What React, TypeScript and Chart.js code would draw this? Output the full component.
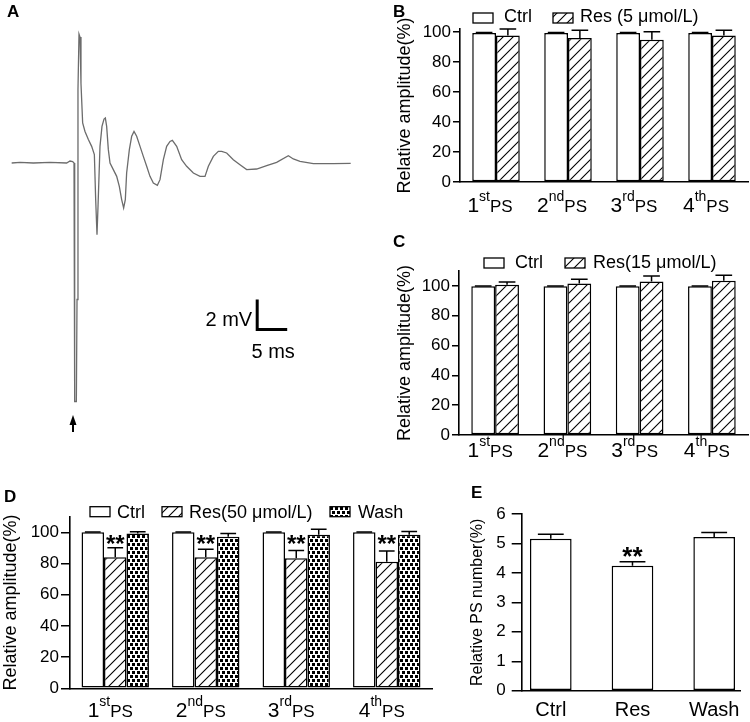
import React, { useEffect, useRef } from 'react';
import { Chart, registerables } from 'chart.js';

Chart.register(...registerables);

const FONT = '"Liberation Sans", Arial, Helvetica, sans-serif';

// ---------- Panel A: evoked field potential trace ----------
const traceTimeMs = [
  -10.72, -9.33, -7.11, -4.33, -1.56, -1.0, -0.56, -0.33, -0.22, 0.06,
  0.17, 0.33, 0.5, 0.67, 0.83, 1.11, 1.5, 2.06, 2.61, 3.06,
  3.28, 3.5, 3.67, 4.0, 4.33, 4.67, 4.89, 5.11, 5.39, 5.67,
  6.22, 6.78, 7.22, 7.61, 7.94, 8.22, 8.44, 8.89, 9.28, 9.67,
  10.11, 10.67, 11.22, 11.78, 12.33, 12.89, 13.56, 14.0, 14.56, 15.11,
  15.67, 16.06, 16.78, 17.61, 18.44, 19.56, 20.67, 21.5, 22.06, 22.89,
  23.72, 24.28, 25.11, 26.22, 27.33, 28.44, 30.11, 31.78, 33.44, 35.39,
  36.22, 37.33, 39.56, 42.89, 45.78,
];
const traceMv = [
  0, 0.04, 0, 0.04, 0, 0.13, 0.09, 0, -15.9, -15.9,
  -9.1, 4.9, 8.6, 8.4, 5.3, 2.67, 2.1, 1.56, 1.11, 0.56,
  -2.44, -4.78, -2.89, 1.11, 2.44, 2.93, 3.0, 2.44, 0.89, 0,
  -0.44, -0.89, -1.56, -2.44, -3.0, -2.44, -0.67, 0.89, 1.78, 2.11,
  1.78, 1.11, 0.44, -0.22, -0.89, -1.33, -1.49, -1.11, 0.22, 1.11,
  1.44, 1.51, 1.11, 0.22, -0.22, -0.67, -0.89, -0.89, -0.22, 0.44,
  0.78, 0.78, 0.67, 0.22, -0.11, -0.44, -0.4, -0.18, 0.04, 0.49,
  0.27, 0.11, -0.04, -0.04, -0.02,
];
const scaleBarMv = 2;
const scaleBarMs = 5;

// ---------- Panels B-D: PS amplitudes ----------
const psNumbers = ['1', '2', '3', '4'];
const psSuffixes = ['st', 'nd', 'rd', 'th'];
const psWord = 'PS';

const ctrlB = [99.3, 99.3, 99.3, 99.3];
const errCtrlB = [0.3, 0.3, 0.3, 0.3];
const res5B = [97.7, 96.0, 94.9, 97.7];
const errRes5B = [4.3, 5.1, 5.3, 3.4];

const ctrlC = [99.7, 99.7, 99.7, 99.7];
const errCtrlC = [0.3, 0.3, 0.3, 0.3];
const res15C = [100.7, 101.6, 103.0, 103.4];
const errRes15C = [2.0, 2.9, 3.7, 3.8];

const ctrlD = [100, 100, 100, 100];
const errCtrlD = [0.2, 0.2, 0.2, 0.2];
const res50D = [84.0, 84.0, 83.3, 81.2];
const errRes50D = [6.1, 5.2, 5.1, 6.8];
const washD = [99.3, 97.2, 98.5, 98.5];
const errWashD = [1.1, 2.1, 3.4, 2.0];
const signifD = [true, true, true, true];

// ---------- Panel E: PS number ----------
const groupsE = ['Ctrl', 'Res', 'Wash'];
const psNumberE = [5.16, 4.24, 5.22];
const errPsNumberE = [0.15, 0.14, 0.15];
const signifE = [false, true, false];

// ---------- fills ----------
function makeHatch(): any {
  const c = document.createElement('canvas');
  c.width = 10; c.height = 10;
  const g = c.getContext('2d')!;
  g.fillStyle = '#fff'; g.fillRect(0, 0, 10, 10);
  g.strokeStyle = '#000'; g.lineWidth = 1.1;
  g.beginPath();
  g.moveTo(0, 10); g.lineTo(10, 0);
  g.moveTo(-2, 2); g.lineTo(2, -2);
  g.moveTo(8, 12); g.lineTo(12, 8);
  g.stroke();
  return g.createPattern(c, 'repeat');
}
function makeDots(): any {
  const c = document.createElement('canvas');
  c.width = 10; c.height = 8;
  const g = c.getContext('2d')!;
  g.fillStyle = '#fff'; g.fillRect(0, 0, 10, 8);
  g.fillStyle = '#000';
  g.fillRect(0, 0, 3, 3); g.fillRect(5, 0, 3, 3);
  g.fillRect(2, 4, 3, 3); g.fillRect(7, 4, 3, 3);
  return g.createPattern(c, 'repeat');
}

// ---------- plugins ----------
function errorBarPlugin(errs: (number[] | null)[], capRatio = 0.7) {
  return {
    id: 'errorBars',
    afterDatasetsDraw(chart: any) {
      const ctx = chart.ctx;
      const ys = chart.scales.y;
      ctx.save();
      ctx.strokeStyle = '#000';
      ctx.lineWidth = 1.5;
      chart.data.datasets.forEach((ds: any, di: number) => {
        const e = errs[di];
        if (!e) return;
        const meta = chart.getDatasetMeta(di);
        meta.data.forEach((bar: any, i: number) => {
          const raw = ds.data[i];
          const v = typeof raw === 'number' ? raw : raw.y;
          const yTop = ys.getPixelForValue(v + e[i]);
          const half = (bar.width * capRatio) / 2;
          ctx.beginPath();
          ctx.moveTo(bar.x, bar.y);
          ctx.lineTo(bar.x, yTop);
          ctx.moveTo(bar.x - half, yTop);
          ctx.lineTo(bar.x + half, yTop);
          ctx.stroke();
        });
      });
      ctx.restore();
    },
  };
}

function legendPlugin(s: { boxX: number[]; textX: number[]; boxTop: number; textBase: number; size: number }) {
  return {
    id: 'panelLegend',
    afterDraw(chart: any) {
      const { ctx, chartArea } = chart;
      ctx.save();
      chart.data.datasets.forEach((ds: any, i: number) => {
        const bx = chartArea.left + s.boxX[i];
        const by = chartArea.top + s.boxTop;
        ctx.fillStyle = ds.backgroundColor;
        ctx.fillRect(bx, by, 20, 10);
        ctx.strokeStyle = '#000';
        ctx.lineWidth = 1.3;
        ctx.strokeRect(bx, by, 20, 10);
        ctx.fillStyle = '#000';
        ctx.font = `${s.size}px ${FONT}`;
        ctx.textAlign = 'left';
        ctx.textBaseline = 'alphabetic';
        ctx.fillText(ds.label, chartArea.left + s.textX[i], chartArea.top + s.textBase);
      });
      ctx.restore();
    },
  };
}

function ordinalLabelsPlugin(s: { dy: number; dx: number; num: number; sup: number; word: number; raise: number }) {
  return {
    id: 'ordinalLabels',
    afterDraw(chart: any) {
      const { ctx, chartArea } = chart;
      const xs = chart.scales.x;
      const base = chartArea.bottom + s.dy;
      ctx.save();
      ctx.fillStyle = '#000';
      ctx.textAlign = 'left';
      ctx.textBaseline = 'alphabetic';
      psNumbers.forEach((n, i) => {
        ctx.font = `${s.num}px ${FONT}`;
        const wn = ctx.measureText(n).width;
        ctx.font = `${s.sup}px ${FONT}`;
        const ws = ctx.measureText(psSuffixes[i]).width;
        ctx.font = `${s.word}px ${FONT}`;
        const ww = ctx.measureText(psWord).width;
        let x = xs.getPixelForValue(i) - (wn + ws + ww) / 2 + s.dx;
        ctx.font = `${s.num}px ${FONT}`;
        ctx.fillText(n, x, base);
        x += wn;
        ctx.font = `${s.sup}px ${FONT}`;
        ctx.fillText(psSuffixes[i], x, base - s.raise);
        x += ws;
        ctx.font = `${s.word}px ${FONT}`;
        ctx.fillText(psWord, x, base);
      });
      ctx.restore();
    },
  };
}

function starsPlugin(s: { di: number; flags: boolean[]; errs: number[]; size: number; atValue?: number; gap?: number }) {
  return {
    id: 'signifStars',
    afterDraw(chart: any) {
      const { ctx } = chart;
      const ys = chart.scales.y;
      const ds = chart.data.datasets[s.di];
      const meta = chart.getDatasetMeta(s.di);
      ctx.save();
      ctx.fillStyle = '#000';
      ctx.font = `bold ${s.size}px ${FONT}`;
      ctx.textAlign = 'center';
      ctx.textBaseline = 'alphabetic';
      meta.data.forEach((bar: any, i: number) => {
        if (!s.flags[i]) return;
        const raw = ds.data[i];
        const v = typeof raw === 'number' ? raw : raw.y;
        const cy = s.atValue !== undefined
          ? ys.getPixelForValue(s.atValue)
          : ys.getPixelForValue(v + s.errs[i]) - (s.gap || 0);
        ctx.fillText('**', bar.x, cy + 0.575 * s.size);
      });
      ctx.restore();
    },
  };
}

const traceAnnotations = {
  id: 'traceAnnotations',
  afterDraw(chart: any) {
    const { ctx } = chart;
    const xs = chart.scales.x;
    const ys = chart.scales.y;
    const cornerMs = 30.2;
    const cornerMv = -11.1;
    const x0 = xs.getPixelForValue(cornerMs);
    const x1 = xs.getPixelForValue(cornerMs + scaleBarMs);
    const y0 = ys.getPixelForValue(cornerMv);
    const y1 = ys.getPixelForValue(cornerMv + scaleBarMv);
    ctx.save();
    ctx.strokeStyle = '#000';
    ctx.fillStyle = '#000';
    ctx.lineWidth = 3;
    ctx.beginPath();
    ctx.moveTo(x0, y1);
    ctx.lineTo(x0, y0);
    ctx.lineTo(x1, y0);
    ctx.stroke();
    ctx.font = `20px ${FONT}`;
    ctx.textBaseline = 'alphabetic';
    ctx.textAlign = 'right';
    ctx.fillText(`${scaleBarMv} mV`, x0 - 5, y0 - 4);
    ctx.textAlign = 'center';
    ctx.fillText(`${scaleBarMs} ms`, (x0 + x1) / 2 + 1, y0 + 28);
    // stimulus arrow
    const ax = xs.getPixelForValue(-0.5);
    const ay = ys.getPixelForValue(-16.8);
    ctx.beginPath();
    ctx.moveTo(ax, ay);
    ctx.lineTo(ax - 3.5, ay + 10);
    ctx.lineTo(ax + 3.5, ay + 10);
    ctx.closePath();
    ctx.fill();
    ctx.lineWidth = 2;
    ctx.beginPath();
    ctx.moveTo(ax, ay + 8);
    ctx.lineTo(ax, ay + 17);
    ctx.stroke();
    ctx.restore();
  },
};

// ---------- configs ----------
function yAxis(o: { max: number; step: number; title: string; titleSize: number; titlePad: number; width: number; tickLen: number; tickPad: number; tickSize: number }) {
  return {
    type: 'linear',
    min: 0,
    max: o.max,
    afterFit: (s: any) => { s.width = o.width; },
    ticks: { stepSize: o.step, includeBounds: false, color: '#000', font: { family: FONT, size: o.tickSize }, padding: o.tickPad },
    grid: { drawOnChartArea: false, drawTicks: true, tickLength: o.tickLen, color: '#000', lineWidth: 1.5 },
    border: { display: true, color: '#000', width: 1.6 },
    title: { display: true, text: o.title, color: '#000', font: { family: FONT, size: o.titleSize }, padding: { top: o.titlePad, bottom: 0 } },
  };
}

function xCategoryAxis(height: number) {
  return {
    type: 'category',
    offset: true,
    afterFit: (s: any) => { s.height = height; },
    ticks: { display: false },
    grid: { display: false, drawTicks: false },
    border: { display: true, color: '#000', width: 1.6 },
  };
}

function barDataset(label: string, data: any[], fill: any, cp: number) {
  return {
    label,
    data,
    backgroundColor: fill,
    borderColor: '#000',
    borderWidth: 1.5,
    borderSkipped: false,
    categoryPercentage: cp,
    barPercentage: 1,
  };
}

const baseOptions = {
  responsive: false,
  animation: false,
  events: [],
};

function makeTraceConfig(): any {
  return {
    type: 'line',
    data: {
      datasets: [{
        data: traceTimeMs.map((t, i) => ({ x: t, y: traceMv[i] })),
        borderColor: '#6c6c6c',
        borderWidth: 1.3,
        pointRadius: 0,
        tension: 0,
        fill: false,
      }],
    },
    options: {
      ...baseOptions,
      layout: { padding: 0 },
      plugins: { legend: { display: false }, tooltip: { enabled: false } },
      scales: {
        x: { type: 'linear', min: -12, max: 47, display: false },
        y: { type: 'linear', min: -19, max: 10, display: false },
      },
    },
    plugins: [traceAnnotations],
  };
}

function makeBConfig(): any {
  const cp = 0.66;
  return {
    type: 'bar',
    data: {
      labels: psNumbers,
      datasets: [
        barDataset('Ctrl', ctrlB, '#fff', cp),
        barDataset('Res (5 \u03bcmol/L)', res5B, makeHatch(), cp),
      ],
    },
    options: {
      ...baseOptions,
      layout: { padding: { left: 0, right: 2, top: 29, bottom: 0 } },
      plugins: { legend: { display: false }, tooltip: { enabled: false } },
      scales: {
        x: xCategoryAxis(50),
        y: yAxis({ max: 102, step: 20, title: 'Relative amplitude(%)', titleSize: 18, titlePad: 14, width: 80, tickLen: 7, tickPad: 2, tickSize: 17 }),
      },
    },
    plugins: [
      errorBarPlugin([errCtrlB, errRes5B]),
      legendPlugin({ boxX: [13, 93], textX: [44, 120], boxTop: -16, textBase: -7, size: 18 }),
      ordinalLabelsPlugin({ dy: 30, dx: -6, num: 21, sup: 14, word: 17, raise: 11 }),
    ],
  };
}

function makeCConfig(): any {
  const cp = 0.66;
  return {
    type: 'bar',
    data: {
      labels: psNumbers,
      datasets: [
        barDataset('Ctrl', ctrlC, '#fff', cp),
        barDataset('Res(15 \u03bcmol/L)', res15C, makeHatch(), cp),
      ],
    },
    options: {
      ...baseOptions,
      layout: { padding: { left: 0, right: 2, top: 39, bottom: 0 } },
      plugins: { legend: { display: false }, tooltip: { enabled: false } },
      scales: {
        x: xCategoryAxis(37),
        y: yAxis({ max: 110, step: 20, title: 'Relative amplitude(%)', titleSize: 18, titlePad: 14, width: 79, tickLen: 7, tickPad: 2, tickSize: 17 }),
      },
    },
    plugins: [
      errorBarPlugin([errCtrlC, errRes15C]),
      legendPlugin({ boxX: [25, 106], textX: [56, 134], boxTop: -13, textBase: -3, size: 18 }),
      ordinalLabelsPlugin({ dy: 22, dx: -5, num: 21, sup: 14, word: 17, raise: 11 }),
    ],
  };
}

function makeDConfig(): any {
  const cp = 0.745;
  return {
    type: 'bar',
    data: {
      labels: psNumbers,
      datasets: [
        barDataset('Ctrl', ctrlD, '#fff', cp),
        barDataset('Res(50 \u03bcmol/L)', res50D, makeHatch(), cp),
        barDataset('Wash', washD, makeDots(), cp),
      ],
    },
    options: {
      ...baseOptions,
      layout: { padding: { left: 0, right: 38, top: 41.7, bottom: 0 } },
      plugins: { legend: { display: false }, tooltip: { enabled: false } },
      scales: {
        x: xCategoryAxis(33.7),
        y: yAxis({ max: 110, step: 20, title: 'Relative amplitude(%)', titleSize: 18, titlePad: 0, width: 70, tickLen: 9, tickPad: 2, tickSize: 17 }),
      },
    },
    plugins: [
      errorBarPlugin([errCtrlD, errRes50D, errWashD]),
      legendPlugin({ boxX: [20, 92, 260], textX: [47, 119, 288], boxTop: -10, textBase: 1, size: 18 }),
      ordinalLabelsPlugin({ dy: 29, dx: -5, num: 21, sup: 14, word: 17, raise: 11 }),
      starsPlugin({ di: 1, flags: signifD, errs: errRes50D, size: 24, atValue: 96.3 }),
    ],
  };
}

function makeEConfig(): any {
  return {
    type: 'bar',
    data: {
      datasets: [{
        label: 'PS number',
        data: groupsE.map((_, i) => ({ x: i, y: psNumberE[i] })),
        backgroundColor: '#fff',
        borderColor: '#000',
        borderWidth: 1.5,
        borderSkipped: false,
        categoryPercentage: 0.51,
        barPercentage: 1,
      }],
    },
    options: {
      ...baseOptions,
      layout: { padding: { left: 0, right: 10, top: 39, bottom: 0 } },
      plugins: { legend: { display: false }, tooltip: { enabled: false } },
      scales: {
        x: {
          type: 'linear',
          min: -0.356,
          max: 2.316,
          offset: false,
          afterBuildTicks: (s: any) => { s.ticks = groupsE.map((_, i) => ({ value: i })); },
          afterFit: (s: any) => { s.height = 31.3; },
          ticks: {
            callback: (v: any) => groupsE[v] ?? '',
            color: '#000',
            font: { family: FONT, size: 20 },
            padding: 8,
            autoSkip: false,
            maxRotation: 0,
          },
          grid: { display: false, drawTicks: false },
          border: { display: true, color: '#000', width: 1.6 },
        },
        y: yAxis({ max: 6, step: 1, title: 'Relative PS number(%)', titleSize: 16, titlePad: 0, width: 53.7, tickLen: 10, tickPad: 6, tickSize: 17 }),
      },
    },
    plugins: [
      errorBarPlugin([errPsNumberE], 0.62),
      starsPlugin({ di: 0, flags: signifE, errs: errPsNumberE, size: 26, gap: 12 }),
    ],
  };
}

// ---------- components ----------
function ChartCanvas({ make, left, top, width, height }: { make: () => any; left: number; top: number; width: number; height: number }) {
  const ref = useRef<HTMLCanvasElement | null>(null);
  useEffect(() => {
    if (!ref.current) return;
    const chart = new Chart(ref.current, make());
    return () => chart.destroy();
  }, [make]);
  return (
    <canvas
      ref={ref}
      width={width}
      height={height}
      style={{ position: 'absolute', left, top, width, height, display: 'block' }}
    />
  );
}

function PanelLetter({ text, left, top }: { text: string; left: number; top: number }) {
  return (
    <div
      style={{
        position: 'absolute', left, top,
        font: `bold 17px ${FONT}`, lineHeight: '17px', color: '#000',
      }}
    >
      {text}
    </div>
  );
}

export default function App() {
  return (
    <div style={{ position: 'absolute', left: 0, top: 0, width: 750, height: 722, background: '#fff', overflow: 'hidden' }}>
      <ChartCanvas make={makeTraceConfig} left={4} top={13} width={354} height={435} />
      <ChartCanvas make={makeBConfig} left={380} top={0} width={370} height={232} />
      <ChartCanvas make={makeCConfig} left={380} top={232} width={370} height={240} />
      <ChartCanvas make={makeDConfig} left={0} top={475} width={470} height={247} />
      <ChartCanvas make={makeEConfig} left={468} top={475} width={282} height={247} />
      <PanelLetter text="A" left={7} top={3} />
      <PanelLetter text="B" left={393} top={3} />
      <PanelLetter text="C" left={393} top={233} />
      <PanelLetter text="D" left={4} top={488} />
      <PanelLetter text="E" left={471} top={484} />
    </div>
  );
}
